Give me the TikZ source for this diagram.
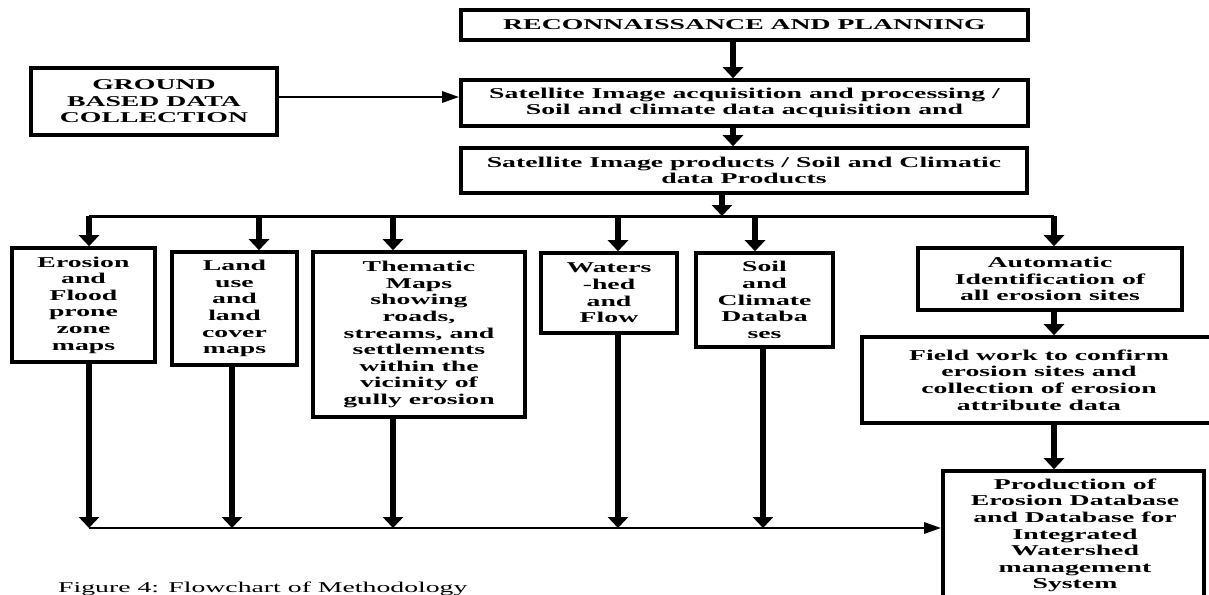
\documentclass[tikz,border=0pt]{standalone}
\usepackage{fontspec}
\setmainfont{Liberation Serif}[FakeStretch=1.85]
\usetikzlibrary{arrows.meta}
\begin{document}
\begin{tikzpicture}[x=1pt,y=-1pt,
  box/.style={draw, line width=3.6pt, inner sep=0pt, align=center,
    font=\fontsize{15}{16.6}\selectfont\bfseries},
  arr/.style={line width=5.2pt, -{Triangle[width=20pt,length=11pt]}},
  bus/.style={line width=3pt},
  tarr/.style={line width=2.8pt, -{Triangle[width=11pt,length=17pt]}},
  captext/.style={font=\fontsize{15}{17}\selectfont, inner sep=0pt, anchor=base west}]
\useasboundingbox (0,0) rectangle (1209,594);
% boxes
\node[box, minimum width=567pt, minimum height=30pt] (recon) at (744.5,25) {RECONNAISSANCE AND PLANNING};
\node[box, minimum width=246pt, minimum height=67pt] (ground) at (154,101.5) {GROUND\\BASED DATA\\COLLECTION};
\node[box, minimum width=567pt, minimum height=46pt] (satacq) at (744.5,103) {Satellite Image acquisition and processing /\\Soil and climate data acquisition and};
\node[box, minimum width=566pt, minimum height=45pt] (products) at (744,170.5) {Satellite Image products / Soil and Climatic\\data Products};
\node[box, minimum width=143pt, minimum height=114pt] (erosion) at (83.5,305) {Erosion\\and\\Flood\\prone\\zone\\maps};
\node[box, minimum width=125pt, minimum height=113pt] (land) at (234.5,308.5) {Land\\use\\and\\land\\cover\\maps};
\node[box, minimum width=212pt, minimum height=165pt] (thematic) at (419,334.5) {Thematic\\Maps\\showing\\roads,\\streams, and\\settlements\\within the\\vicinity of\\gully erosion};
\node[box, minimum width=136pt, minimum height=80pt] (waters) at (609,293) {Waters\\-hed\\and\\Flow};
\node[box, minimum width=137pt, minimum height=94pt] (soil) at (764.5,300) {Soil\\and\\Climate\\Databa\\ses};
\node[box, minimum width=264pt, minimum height=62pt] (auto) at (1050,279) {Automatic\\Identification of\\all erosion sites};
\node[box, minimum width=354pt, minimum height=86pt] (field) at (1039,380) {Field work to confirm\\erosion sites and\\collection of erosion\\attribute data};
\node[box, minimum width=261pt, minimum height=139pt, text depth=0pt] (prod) at (1073.5,540.5) {};
\node[box, draw=none, anchor=north] (prodtext) at (1075,477) {Production of\\Erosion Database\\and Database for\\Integrated\\Watershed\\management\\System};
\node[captext] (caption) at (58,592) {Figure 4: Flowchart of Methodology};
% helper coordinates
\coordinate (y97) at (0,97);
\coordinate (x733) at (733,0);
\coordinate (x722) at (722,0);
\coordinate (tbL) at (89,216);
\coordinate (tbR) at (1054,216);
\coordinate (bbL) at (89,528);
\coordinate (x259) at (259,0);
\coordinate (x393) at (393,0);
\coordinate (x618) at (618,0);
\coordinate (x755) at (755,0);
\coordinate (x232) at (232,0);
\coordinate (x763) at (763,0);
% top connectors
\draw[arr] (recon.south -| x733) -- (satacq.north -| x733);
\draw[arr] (satacq.south -| x733) -- (products.north -| x733);
\draw[tarr] (ground.east |- y97) -- (satacq.west |- y97);
\draw[bus] (tbL) -- (tbR);
\draw[arr] (products.south -| x722) -- (x722 |- tbL);
\draw[arr] (tbL) -- (erosion.north -| tbL);
\draw[arr] (x259 |- tbL) -- (land.north -| x259);
\draw[arr] (x393 |- tbL) -- (thematic.north -| x393);
\draw[arr] (x618 |- tbL) -- (waters.north -| x618);
\draw[arr] (x755 |- tbL) -- (soil.north -| x755);
\draw[arr] (tbR) -- (auto.north -| tbR);
\draw[arr] (auto.south -| tbR) -- (field.north -| tbR);
\draw[arr] (field.south -| tbR) -- (prod.north -| tbR);
% bottom connectors
\draw[arr] (erosion.south -| bbL) -- (bbL);
\draw[arr] (land.south -| x232) -- (x232 |- bbL);
\draw[arr] (thematic.south -| x393) -- (x393 |- bbL);
\draw[arr] (waters.south -| x618) -- (x618 |- bbL);
\draw[arr] (soil.south -| x763) -- (x763 |- bbL);
\draw[tarr] (bbL) -- (prod.west |- bbL);
\end{tikzpicture}
\end{document}
